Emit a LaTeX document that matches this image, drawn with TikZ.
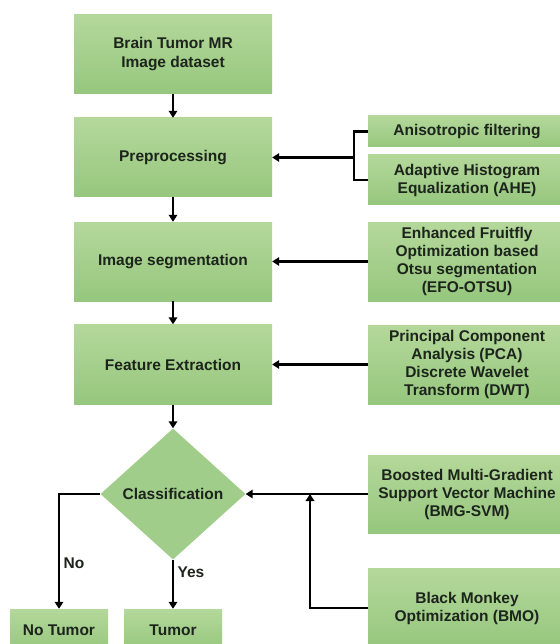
\documentclass[tikz,border=0pt]{standalone}
\usepackage{fontspec}
\setmainfont{Liberation Sans}
\usetikzlibrary{shapes.geometric,arrows.meta}
\definecolor{boxtop}{RGB}{180,216,154}
\definecolor{boxbot}{RGB}{150,199,126}
\definecolor{dmnd}{RGB}{160,205,138}
\definecolor{ink}{RGB}{28,36,28}

\begin{document}
\begin{tikzpicture}[x=1pt,y=-1pt,
  box/.style={rectangle, top color=boxtop, bottom color=boxbot, minimum width=198pt, inner sep=0pt, align=center, text=ink, font=\fontsize{15.5}{19}\selectfont\bfseries},
  side/.style={box, font=\fontsize{15.5}{18}\selectfont\bfseries},
  arr/.style={line width=2.6pt, -{Triangle[length=7pt,width=8.5pt]}},
  link/.style={line width=2.6pt}]

\useasboundingbox (0,0) rectangle (559,644) ;

\node [box, minimum height=79pt] (data) at (173,54.5) {Brain Tumor MR\\Image dataset} ;
\node [box, minimum height=79pt] (pre) at (173,157.5) {Preprocessing} ;
\node [box, minimum height=79pt] (seg) at (173,261.5) {Image segmentation} ;
\node [box, minimum height=80pt] (feat) at (173,364.5) {Feature Extraction} ;
\node [shape=diamond, fill=dmnd, inner sep=0pt, minimum width=145pt, minimum height=131pt, text=ink, font=\fontsize{15.5}{19}\selectfont\bfseries] (cls) at (173,494) {Classification} ;
\node [box, minimum width=98pt, minimum height=42pt] (notum) at (59,630) {No Tumor} ;
\node [box, minimum width=98pt, minimum height=42pt] (tum) at (173,630) {Tumor} ;

\node [side, minimum height=31pt] (aniso) at (467,131.5) {Anisotropic filtering} ;
\node [side, minimum height=50pt] (ahe) at (467,180) {Adaptive Histogram\\Equalization (AHE)} ;
\node [side, minimum height=79pt] (efo) at (467,261.5) {Enhanced Fruitfly\\Optimization based\\Otsu segmentation\\(EFO-OTSU)} ;
\node [side, minimum height=79pt] (pca) at (467,364.5) {Principal Component\\Analysis (PCA)\\Discrete Wavelet\\Transform (DWT)} ;
\node [side, minimum height=78pt] (bmg) at (467,494) {Boosted Multi-Gradient\\Support Vector Machine\\(BMG-SVM)} ;
\node [side, minimum height=79pt] (bmo) at (467,608) {Black Monkey\\Optimization (BMO)} ;

\coordinate (brk) at (354,157.5) ;
\coordinate (join) at (310,494) ;

\draw [arr] (data) -- (pre) ;
\draw [arr] (pre) -- (seg) ;
\draw [arr] (seg) -- (feat) ;
\draw [arr] (feat) -- (cls) ;
\draw [arr] (cls.south) -- node [right, pos=0.25, text=ink, font=\fontsize{15.5}{19}\selectfont\bfseries] {Yes} (tum) ;
\draw [arr] (cls.west) -| node [right, pos=0.8, text=ink, font=\fontsize{15.5}{19}\selectfont\bfseries] {No} (notum) ;

\draw [link] (aniso.west) -- ++(-14,0) |- (ahe.west) ;
\draw [arr] (brk) -- (pre) ;
\draw [arr] (efo) -- (seg) ;
\draw [arr] (pca) -- (feat) ;
\draw [arr] (bmg.west) -- (cls.east) ;
\draw [arr] (bmo.west) -| (join) ;

\end{tikzpicture}
\end{document}
